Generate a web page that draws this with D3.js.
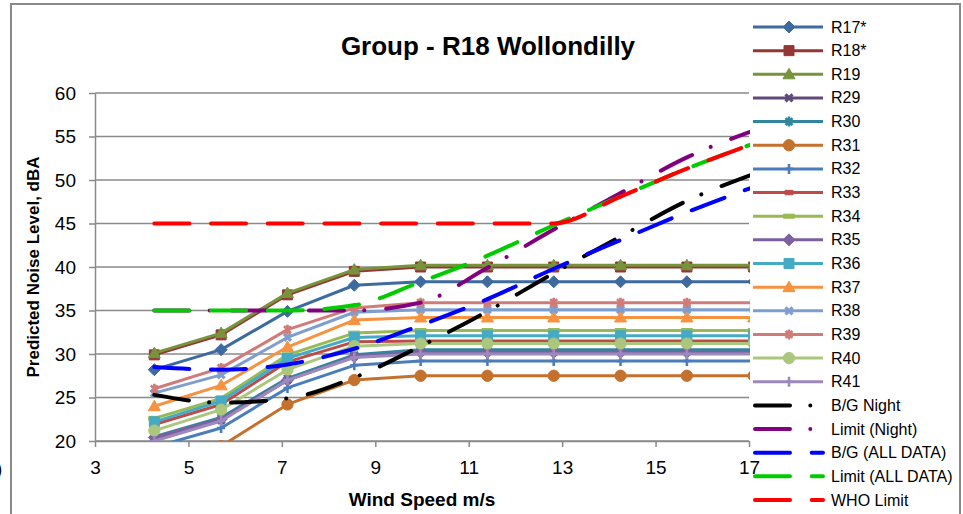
<!DOCTYPE html>
<html>
<head>
<meta charset="utf-8">
<script src="https://cdn.jsdelivr.net/npm/d3@7"></script>
<style>
body { margin: 0; background: #fff; }
svg { display: block; font-family: "Liberation Sans", Arial, sans-serif; }
</style>
</head>
<body>
<svg id="chart" width="963" height="514"></svg>
<script>
// wind speeds (hub height) the model was run at
var windSpeed = [4.27, 5.70, 7.12, 8.55, 9.97, 11.40, 12.82, 14.25, 15.67, 17.10];
var xTicks = [3, 5, 7, 9, 11, 13, 15, 17];
var yTicks = [20, 25, 30, 35, 40, 45, 50, 55, 60];

// predicted levels per receiver, dBA
var r17 = [28.2, 30.5, 34.9, 37.9, 38.3, 38.3, 38.3, 38.3, 38.3, 38.3];
var r18 = [29.9, 32.2, 36.8, 39.5, 40.0, 40.0, 40.0, 40.0, 40.0, 40.0];
var r19 = [30.1, 32.4, 37.0, 39.7, 40.2, 40.2, 40.2, 40.2, 40.2, 40.2];
var r29 = [20.3, 22.4, 27.0, 29.8, 30.3, 30.3, 30.3, 30.3, 30.3, 30.3];
var r30 = [20.5, 22.7, 27.2, 29.9, 30.5, 30.5, 30.5, 30.5, 30.5, 30.5];
var r31 = [17.3, 19.4, 24.2, 27.0, 27.5, 27.5, 27.5, 27.5, 27.5, 27.5];
var r32 = [19.3, 21.5, 26.1, 28.7, 29.2, 29.2, 29.2, 29.2, 29.2, 29.2];
var r33 = [21.9, 24.2, 29.1, 31.4, 31.5, 31.5, 31.5, 31.5, 31.5, 31.5];
var r34 = [22.6, 24.9, 29.9, 32.4, 32.7, 32.7, 32.7, 32.7, 32.7, 32.7];
var r35 = [20.4, 22.5, 27.0, 29.7, 30.2, 30.2, 30.2, 30.2, 30.2, 30.2];
var r36 = [22.2, 24.6, 29.5, 31.9, 32.1, 32.1, 32.1, 32.1, 32.1, 32.1];
var r37 = [24.0, 26.4, 30.8, 33.9, 34.2, 34.2, 34.2, 34.2, 34.2, 34.2];
var r38 = [25.5, 27.6, 31.9, 34.8, 35.1, 35.1, 35.1, 35.1, 35.1, 35.1];
var r39 = [26.0, 28.4, 32.8, 35.3, 35.9, 35.9, 35.9, 35.9, 35.9, 35.9];
var r40 = [21.2, 23.6, 28.2, 30.9, 31.2, 31.2, 31.2, 31.2, 31.2, 31.2];
var r41 = [20.0, 22.3, 27.0, 29.6, 30.0, 30.0, 30.0, 30.0, 30.0, 30.0];

// background and limit curves
var bgNight = [25.3, 24.4, 24.9, 27.3, 30.9, 34.9, 39.3, 43.5, 47.6, 50.7];
var limitNight = [35.0, 35.0, 35.0, 35.0, 35.9, 39.9, 44.3, 48.5, 52.6, 55.7];
var bgAll = [28.5, 28.2, 28.8, 30.6, 33.3, 36.3, 39.8, 43.1, 46.3, 49.2];
var limitAll = [35.0, 35.0, 35.0, 35.6, 38.3, 41.3, 44.8, 48.1, 51.3, 54.2];
var whoLimit = [45.0, 45.0, 45.0, 45.0, 45.0, 45.0, 45.0, 48.1, 51.3, 54.2];

var receiverNames = ["R17*", "R18*", "R19", "R29", "R30", "R31", "R32", "R33", "R34", "R35", "R36", "R37", "R38", "R39", "R40", "R41"];
var receiverValues = [r17, r18, r19, r29, r30, r31, r32, r33, r34, r35, r36, r37, r38, r39, r40, r41];
var receiverColors = ["#3D6A9F", "#943634", "#77933C", "#604A7B", "#31859C", "#C5712E", "#4A7EBB", "#BE4B48",
                      "#98B954", "#7D60A0", "#46AAC5", "#F69240", "#7E9ECF", "#D07B78", "#ABC67D", "#9D89BD"];
var receiverMarkers = ["diamond", "square", "triangle", "x", "star", "circle", "plus", "dash", "longdash",
                       "diamond", "square", "triangle", "x", "star", "circle", "plus"];

var curveNames = ["B/G Night", "Limit (Night)", "B/G (ALL DATA)", "Limit (ALL DATA)", "WHO Limit"];
var curveValues = [bgNight, limitNight, bgAll, limitAll, whoLimit];
var curveColors = ["#000000", "#800080", "#0000FF", "#00CC00", "#FF0000"];
var dashDot = "35,20.3,0.01,22";
var longDash = "35,21.7";
var curveDashes = [dashDot, dashDot, longDash, longDash, longDash];

var svg = d3.select("#chart");
var x = d3.scaleLinear().domain([3, 17]).range([95, 749]);
var y = d3.scaleLinear().domain([20, 60]).range([441, 93]);
var grey = "#8A8A8A";

// outer frame of the chart
svg.append("path")
  .attr("d", "M11,514V4H960V514")
  .attr("fill", "none").attr("stroke", grey).attr("stroke-width", 2);
svg.append("text").attr("x", -4).attr("y", 475).attr("font-size", 19).text(")");

// title
svg.append("text")
  .attr("x", 488).attr("y", 55)
  .attr("text-anchor", "middle").attr("font-size", 26).attr("font-weight", "bold")
  .text("Group - R18 Wollondilly");

// horizontal gridlines
svg.append("g").selectAll("line")
  .data(yTicks)
  .join("line")
  .attr("x1", 95).attr("x2", 749)
  .attr("y1", function(d) { return y(d); })
  .attr("y2", function(d) { return y(d); })
  .attr("stroke", grey).attr("stroke-width", 1.5);

var yAxis = svg.append("g")
  .attr("transform", "translate(95,0)")
  .call(d3.axisLeft(y).tickValues(yTicks).tickSize(6).tickSizeOuter(0).tickPadding(13));
var xAxis = svg.append("g")
  .attr("transform", "translate(0,441)")
  .call(d3.axisBottom(x).tickValues(xTicks).tickSize(6).tickSizeOuter(0).tickPadding(13.5));

[yAxis, xAxis].forEach(function(ax) {
  ax.select(".domain").attr("stroke", grey).attr("stroke-width", 1.5);
  ax.selectAll(".tick line").attr("stroke", grey).attr("stroke-width", 1.5);
  ax.selectAll(".tick text").attr("font-size", 19).attr("fill", "#000")
    .attr("font-family", "Liberation Sans, Arial, sans-serif");
});

// axis titles
svg.append("text")
  .attr("transform", "translate(39,267) rotate(-90)")
  .attr("text-anchor", "middle").attr("font-size", 17).attr("font-weight", "bold")
  .text("Predicted Noise Level, dBA");
svg.append("text")
  .attr("x", 422).attr("y", 506)
  .attr("text-anchor", "middle").attr("font-size", 19).attr("font-weight", "bold")
  .text("Wind Speed m/s");

// marker shapes, roughly like Excel's automatic ones
var markerPaths = {
  diamond: "M0,-6L6,0L0,6L-6,0Z",
  square: "M-5,-5H5V5H-5Z",
  triangle: "M0,-6L6,4.5H-6Z",
  circle: d3.symbol(d3.symbolCircle, 100)(),
  x: "M-3.5,-3.5L3.5,3.5M3.5,-3.5L-3.5,3.5",
  star: "M-3.5,-3.5L3.5,3.5M3.5,-3.5L-3.5,3.5M0,-5V5",
  plus: "M-4,0H4M0,-5V5",
  dash: "M-4,-2.2H4V2.2H-4Z",
  longdash: "M-5.5,-2H5.5V2H-5.5Z"
};
var strokedMarkers = { x: true, star: true, plus: true };

function addMarker(g, type, color) {
  var p = g.append("path").attr("d", markerPaths[type]);
  if (strokedMarkers[type]) {
    p.attr("fill", "none").attr("stroke", color).attr("stroke-width", type == "x" ? 3.2 : 2.6);
  } else {
    p.attr("fill", color).attr("stroke", color).attr("stroke-width", 1);
  }
  return p;
}

svg.append("clipPath").attr("id", "plotClip")
  .append("rect").attr("x", 95).attr("y", 92).attr("width", 655).attr("height", 349);

var plot = svg.append("g").attr("clip-path", "url(#plotClip)");

var line = d3.line()
  .x(function(d, i) { return x(windSpeed[i]); })
  .y(function(d) { return y(d); });

receiverValues.forEach(function(vals, k) {
  var g = plot.append("g");
  g.append("path")
    .attr("d", line(vals))
    .attr("fill", "none").attr("stroke", receiverColors[k])
    .attr("stroke-width", 3).attr("stroke-linejoin", "round");
  vals.forEach(function(v, i) {
    var m = g.append("g").attr("transform", "translate(" + x(windSpeed[i]) + "," + y(v) + ")");
    addMarker(m, receiverMarkers[k], receiverColors[k]);
  });
});

var smooth = d3.line()
  .x(function(d, i) { return x(windSpeed[i]); })
  .y(function(d) { return y(d); })
  .curve(d3.curveMonotoneX);

curveValues.forEach(function(vals, k) {
  plot.append("path")
    .attr("d", smooth(vals))
    .attr("fill", "none").attr("stroke", curveColors[k])
    .attr("stroke-width", 4).attr("stroke-linecap", "round")
    .attr("stroke-dasharray", curveDashes[k]);
});

// legend down the right side
var legend = svg.append("g");
var rowY = function(i) { return 27 + i * 23.65; };

receiverNames.forEach(function(name, k) {
  var g = legend.append("g").attr("transform", "translate(0," + rowY(k) + ")");
  g.append("line").attr("x1", 753).attr("x2", 823).attr("y1", 0).attr("y2", 0)
    .attr("stroke", receiverColors[k]).attr("stroke-width", 3);
  var m = g.append("g").attr("transform", "translate(789,0)");
  addMarker(m, receiverMarkers[k], receiverColors[k]);
  g.append("text").attr("x", 831).attr("y", 5.5).attr("font-size", 16).text(name);
});

curveNames.forEach(function(name, k) {
  var g = legend.append("g").attr("transform", "translate(0," + rowY(receiverNames.length + k) + ")");
  g.append("line").attr("x1", 755).attr("x2", 823).attr("y1", 0).attr("y2", 0)
    .attr("stroke", curveColors[k]).attr("stroke-width", 4)
    .attr("stroke-linecap", "round").attr("stroke-dasharray", curveDashes[k]);
  g.append("text").attr("x", 831).attr("y", 5.5).attr("font-size", 16).text(name);
});
</script>
</body>
</html>
